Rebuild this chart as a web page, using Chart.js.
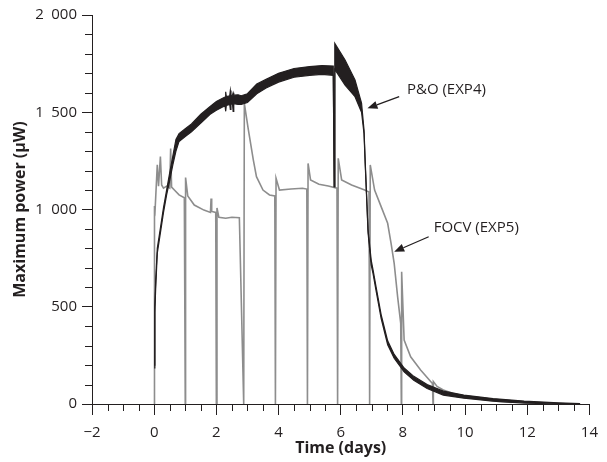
<!DOCTYPE html>
<html>
<head>
<meta charset="utf-8">
<script src="https://cdn.jsdelivr.net/npm/chart.js@4/dist/chart.umd.min.js"></script>
<style>
  html, body { margin: 0; padding: 0; background: #fff; }
  canvas { display: block; }
</style>
</head>
<body>
<canvas id="myChart" width="607" height="462"></canvas>
<script>
// P&O (EXP4) - black, drawn as a noisy band (upper / lower edge)
const poDays  = [0, 0.02, 0.05, 0.1, 0.2, 0.3, 0.4, 0.5, 0.6, 0.7, 0.8, 1.0, 1.2, 1.5, 1.8, 2.0, 2.2, 2.28, 2.3, 2.32, 2.43, 2.45, 2.47, 2.52, 2.54, 2.56, 2.7, 2.8, 3.0, 3.3, 3.6, 4.0, 4.5, 5.0, 5.4, 5.76, 5.79, 5.81, 6.14, 6.46, 6.67, 6.75, 6.79, 6.88, 6.98, 7.04, 7.14, 7.3, 7.51, 7.72, 8.04, 8.35, 8.78, 9.3, 9.96, 10.9, 11.9, 13, 13.7];
const poUpper = [200, 500, 640, 800, 905, 1010, 1100, 1190, 1275, 1360, 1390, 1415, 1440, 1490, 1530, 1555, 1572, 1578, 1605, 1580, 1585, 1612, 1587, 1588, 1600, 1588, 1590, 1585, 1595, 1645, 1670, 1700, 1725, 1735, 1740, 1738, 1117, 1854, 1769, 1666, 1547, 1409, 1238, 894, 740, 690, 600, 460, 325, 255, 185, 142, 100, 66, 46, 28, 15, 6, 2];
const poLower = [185, 470, 600, 775, 880, 985, 1075, 1150, 1230, 1300, 1350, 1375, 1400, 1445, 1490, 1510, 1527, 1532, 1505, 1535, 1540, 1515, 1542, 1543, 1505, 1544, 1540, 1540, 1550, 1595, 1625, 1655, 1680, 1690, 1695, 1690, 1117, 1720, 1640, 1580, 1500, 1390, 1225, 880, 715, 670, 580, 440, 305, 235, 165, 122, 80, 46, 30, 15, 5, 0, 0];

// FOCV (EXP5) - grey
const focvDays  = [0, 0.01, 0.03, 0.1, 0.14, 0.2, 0.24, 0.3, 0.4, 0.5, 0.53, 0.56, 0.65, 0.8, 0.97, 1.0, 1.01, 1.08, 1.29, 1.6, 1.81, 1.83, 1.85, 1.98, 2.0, 2.02, 2.08, 2.3, 2.5, 2.74, 2.88, 2.9, 3.03, 3.19, 3.29, 3.5, 3.71, 3.88, 3.9, 3.92, 4.03, 4.4, 4.77, 4.91, 4.93, 4.95, 5.03, 5.3, 5.6, 5.88, 5.9, 5.92, 6.03, 6.35, 6.77, 6.91, 6.93, 6.95, 7.09, 7.3, 7.51, 7.62, 7.72, 7.83, 7.93, 7.95, 7.96, 8.04, 8.25, 8.57, 8.95, 8.97, 8.98, 9.1, 9.3, 9.6, 10, 10.5, 11, 11.5];
const focvPower = [0, 1018, 1000, 1230, 1120, 1272, 1126, 1110, 1120, 1110, 1314, 1115, 1100, 1075, 1060, 0, 1164, 1070, 1023, 997, 985, 1057, 990, 985, 0, 1008, 960, 955, 960, 958, 0, 1546, 1409, 1254, 1169, 1100, 1075, 1070, 0, 1160, 1100, 1105, 1109, 1105, 0, 1237, 1152, 1130, 1121, 1110, 0, 1263, 1152, 1126, 1100, 1090, 0, 1229, 1100, 1015, 929, 826, 723, 552, 415, 0, 680, 329, 243, 175, 105, 0, 115, 90, 72, 55, 40, 25, 15, 8];

const xTicks = [-2, 0, 2, 4, 6, 8, 10, 12, 14];
const yTicks = [0, 500, 1000, 1500, 2000];

// annotations: [label, text x, text y, arrow from x, y, arrow tip x, y] in data units
const notes = [
  ['P&O (EXP4)', 8.13, 1614, 7.88, 1580, 6.86, 1520],
  ['FOCV (EXP5)', 8.99, 907, 8.83, 860, 7.72, 783]
];

const ink = '#231f20';
const grey = '#8d8d8d';
const font = "'Open Sans', 'DejaVu Sans', sans-serif";

const pts = (xs, ys) => xs.map((x, i) => ({x: x, y: ys[i]}));

function fmt(v) {
  if (v < 0) return '\u2212' + Math.abs(v);
  const s = String(v);
  return s.length > 3 ? s.slice(0, s.length - 3) + '\u2002' + s.slice(-3) : s;
}

// minor ticks + arrows
const extras = {
  id: 'extras',
  afterDraw(chart) {
    const {ctx, scales: {x, y}} = chart;
    ctx.save();
    ctx.strokeStyle = ink;
    ctx.lineWidth = 1;
    ctx.beginPath();
    for (let v = -2; v <= 14; v += 0.5) {
      if (v % 2 === 0) continue;
      const px = Math.round(x.getPixelForValue(v)) + 0.5;
      ctx.moveTo(px, y.bottom);
      ctx.lineTo(px, y.bottom + 7);
    }
    for (let v = 0; v <= 2000; v += 100) {
      if (v % 500 === 0) continue;
      const py = Math.round(y.getPixelForValue(v)) + 0.5;
      ctx.moveTo(x.left, py);
      ctx.lineTo(x.left - 7, py);
    }
    ctx.stroke();

    ctx.fillStyle = ink;
    ctx.font = '15px ' + font;
    ctx.textBaseline = 'middle';
    ctx.textAlign = 'left';
    notes.forEach(n => {
      ctx.fillText(n[0], x.getPixelForValue(n[1]), y.getPixelForValue(n[2]));
      const x0 = x.getPixelForValue(n[3]), y0 = y.getPixelForValue(n[4]);
      const x1 = x.getPixelForValue(n[5]), y1 = y.getPixelForValue(n[6]);
      const a = Math.atan2(y1 - y0, x1 - x0);
      const hl = 10, hw = 4;
      const bx = x1 - hl * Math.cos(a), by = y1 - hl * Math.sin(a);
      ctx.beginPath();
      ctx.moveTo(x0, y0);
      ctx.lineTo(bx, by);
      ctx.lineWidth = 1.3;
      ctx.stroke();
      ctx.beginPath();
      ctx.moveTo(x1, y1);
      ctx.lineTo(bx - hw * Math.sin(a), by + hw * Math.cos(a));
      ctx.lineTo(bx + hw * Math.sin(a), by - hw * Math.cos(a));
      ctx.closePath();
      ctx.fill();
    });
    ctx.restore();
  }
};

const ctx = document.getElementById('myChart').getContext('2d');
const myChart = new Chart(ctx, {
  type: 'line',
  data: {
    datasets: [
      {label: 'P&O (EXP4) low', data: pts(poDays, poLower), borderColor: ink, borderWidth: 1.2, fill: false},
      {label: 'P&O (EXP4)', data: pts(poDays, poUpper), borderColor: ink, borderWidth: 1.2, backgroundColor: ink, fill: '-1'},
      {label: 'FOCV (EXP5)', data: pts(focvDays, focvPower), borderColor: grey, borderWidth: 1.6, fill: false}
    ]
  },
  options: {
    responsive: false,
    animation: false,
    layout: {padding: {left: 0, right: 9, top: 15, bottom: 0}},
    elements: {point: {radius: 0}, line: {tension: 0}},
    plugins: {legend: {display: false}, tooltip: {enabled: false}},
    scales: {
      x: {
        type: 'linear', min: -2, max: 14,
        afterBuildTicks: s => { s.ticks = xTicks.map(v => ({value: v})); },
        afterFit: s => { s.height = 58; },
        ticks: {callback: v => fmt(v), color: ink, font: {family: font, size: 15}, padding: 9, maxRotation: 0, autoSkip: false},
        grid: {drawOnChartArea: false, tickLength: 11, tickColor: ink, tickWidth: 1},
        border: {color: ink, width: 1},
        title: {display: true, text: 'Time (days)', color: ink, font: {family: font, size: 16, weight: 'bold'}, padding: {top: 0, bottom: 4}}
      },
      y: {
        type: 'linear', min: 0, max: 2000,
        afterBuildTicks: s => { s.ticks = yTicks.map(v => ({value: v})); },
        afterFit: s => { s.width = 92; },
        ticks: {callback: v => fmt(v), color: ink, font: {family: font, size: 15}, padding: 5},
        grid: {drawOnChartArea: false, tickLength: 10, tickColor: ink, tickWidth: 1},
        border: {color: ink, width: 1},
        title: {display: true, text: 'Maximum power (µW)', color: ink, font: {family: font, size: 16, weight: 'bold'}, padding: {top: 11, bottom: 0}}
      }
    }
  },
  plugins: [extras]
});
</script>
</body>
</html>
